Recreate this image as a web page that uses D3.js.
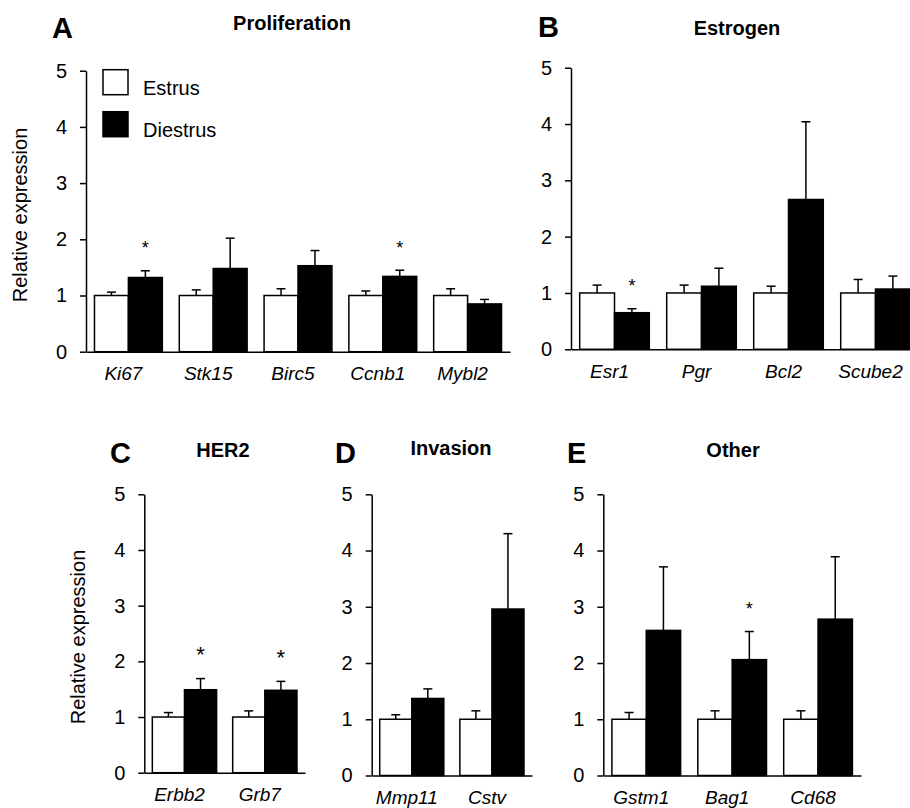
<!DOCTYPE html>
<html>
<head>
<meta charset="utf-8">
<script src="https://cdn.jsdelivr.net/npm/d3@7"></script>
<style>
    body { margin: 0; background: #fff; }
    svg { display: block; font-family: "Liberation Sans", Arial, sans-serif; }
    .axis { font-family: "Liberation Sans", Arial, sans-serif; }
    .axis path, .axis line { stroke: #000; stroke-width: 1.5; }
    .axis text { fill: #000; font-size: 20px; }
    .xaxis text { font-style: italic; font-size: 19px; }
</style>
</head>
<body>
<svg id="chart" width="910" height="808"></svg>
<script>
"use strict";

const SERIES = ["Estrus", "Diestrus"];
const Y_TICKS = [0, 1, 2, 3, 4, 5];

// A - Proliferation
const genesA = ["Ki67", "Stk15", "Birc5", "Ccnb1", "Mybl2"];
const estrusA = [1, 1, 1, 1, 1];
const estrusErrA = [0.06, 0.10, 0.12, 0.08, 0.12];
const diestrusA = [1.32, 1.48, 1.53, 1.34, 0.85];
const diestrusErrA = [0.12, 0.54, 0.27, 0.11, 0.08];
const starsA = [true, false, false, true, false];

// B - Estrogen
const genesB = ["Esr1", "Pgr", "Bcl2", "Scube2"];
const estrusB = [1, 1, 1, 1];
const estrusErrB = [0.14, 0.14, 0.12, 0.24];
const diestrusB = [0.65, 1.12, 2.66, 1.07];
const diestrusErrB = [0.07, 0.32, 1.38, 0.23];
const starsB = [true, false, false, false];

// C - HER2
const genesC = ["Erbb2", "Grb7"];
const estrusC = [1, 1];
const estrusErrC = [0.08, 0.11];
const diestrusC = [1.49, 1.48];
const diestrusErrC = [0.20, 0.16];
const starsC = [true, true];

// D - Invasion
const genesD = ["Mmp11", "Cstv"];
const estrusD = [1, 1];
const estrusErrD = [0.08, 0.15];
const diestrusD = [1.37, 2.96];
const diestrusErrD = [0.17, 1.34];
const starsD = [false, false];

// E - Other
const genesE = ["Gstm1", "Bag1", "Cd68"];
const estrusE = [1, 1, 1];
const estrusErrE = [0.12, 0.15, 0.15];
const diestrusE = [2.58, 2.06, 2.78];
const diestrusErrE = [1.13, 0.50, 1.11];
const starsE = [false, true, false];

let svg = d3.select("#chart");
svg.append("rect").attr("width", 910).attr("height", 808).attr("fill", "#fff");

/**
 * Draw one bar panel
 *
 * @param {Object} p layout of the panel (axis box, letter, title)
 * @param {Array} genes category names
 * @param {Array} series two arrays of values [estrus, diestrus]
 * @param {Array} errs two arrays of error values
 * @param {Array} stars significance flags
 */
function drawPanel(p, genes, series, errs, stars)
{
    let g = svg.append("g");

    let x = d3.scaleBand()
              .domain(genes)
              .range([p.x0, p.x1])
              .paddingInner(0.2)
              .paddingOuter(0.1);
    let xs = d3.scaleBand()
               .domain(SERIES)
               .range([0, x.bandwidth()]);
    let y = d3.scaleLinear()
              .domain([0, 5])
              .range([p.y0, p.y5]);

    let rows = [];
    genes.forEach((gene, i) =>
    {
        SERIES.forEach((s, k) =>
        {
            rows.push({gene: gene, s: s, v: series[k][i], e: errs[k][i]});
        });
    });

    let cx = d => x(d.gene) + xs(d.s) + xs.bandwidth() / 2;

    let bar = g.selectAll("g.bar")
               .data(rows)
               .enter()
               .append("g")
               .attr("class", "bar");

    bar.append("line")
       .attr("x1", cx)
       .attr("x2", cx)
       .attr("y1", d => y(d.v))
       .attr("y2", d => y(d.v + d.e))
       .attr("stroke", "#000")
       .attr("stroke-width", 1.5);

    bar.append("line")
       .attr("x1", d => cx(d) - 4.5)
       .attr("x2", d => cx(d) + 4.5)
       .attr("y1", d => y(d.v + d.e))
       .attr("y2", d => y(d.v + d.e))
       .attr("stroke", "#000")
       .attr("stroke-width", 1.5);

    bar.append("rect")
       .attr("x", d => x(d.gene) + xs(d.s))
       .attr("y", d => y(d.v))
       .attr("width", xs.bandwidth())
       .attr("height", d => y(0) - y(d.v))
       .attr("fill", d => d.s == "Estrus" ? "#fff" : "#000")
       .attr("stroke", "#000")
       .attr("stroke-width", 1.5);

    g.selectAll("text.star")
     .data(genes.filter((d, i) => stars[i]))
     .enter()
     .append("text")
     .attr("class", "star")
     .attr("x", d => x(d) + xs("Diestrus") + xs.bandwidth() / 2)
     .attr("y", d =>
     {
         let i = genes.indexOf(d);
         return y(series[1][i] + errs[1][i]) - 16.5;
     })
     .attr("text-anchor", "middle")
     .attr("font-size", p.star || 18)
     .text("*");

    g.append("g")
     .attr("class", "axis")
     .attr("transform", "translate(" + p.x0 + ",0)")
     .call(d3.axisLeft(y)
             .tickValues(Y_TICKS)
             .tickFormat(d3.format("d"))
             .tickSize(6)
             .tickSizeOuter(0)
             .tickPadding(13));

    let xa = g.append("g")
              .attr("class", "axis xaxis")
              .attr("transform", "translate(0," + p.y0 + ")")
              .call(d3.axisBottom(x)
                      .tickSize(0)
                      .tickSizeOuter(0)
                      .tickPadding(15));
    xa.selectAll("text").attr("dx", -5);

    g.append("text")
     .attr("x", p.lx)
     .attr("y", p.ly)
     .attr("font-size", 29)
     .attr("font-weight", "bold")
     .text(p.letter);

    g.append("text")
     .attr("x", p.tx)
     .attr("y", p.ty)
     .attr("text-anchor", "middle")
     .attr("font-size", 20)
     .attr("font-weight", "bold")
     .text(p.title);

    if (p.ylab)
    {
        g.append("text")
         .attr("transform", "translate(" + p.ylab[0] + "," + p.ylab[1] + ") rotate(-90)")
         .attr("text-anchor", "middle")
         .attr("font-size", 20)
         .text("Relative expression");
    }
    return {x: x, y: y};
}

let pa = drawPanel({x0: 86, x1: 510, y0: 351.7, y5: 70.7, letter: "A", lx: 52, ly: 38,
                    title: "Proliferation", tx: 292, ty: 30, ylab: [27, 215]},
                   genesA, [estrusA, diestrusA], [estrusErrA, diestrusErrA], starsA);

drawPanel({x0: 571, x1: 919, y0: 349.3, y5: 67.7, letter: "B", lx: 538, ly: 37,
           title: "Estrogen", tx: 737, ty: 35},
          genesB, [estrusB, diestrusB], [estrusErrB, diestrusErrB], starsB);

drawPanel({x0: 144.3, x1: 305, y0: 772.7, y5: 494.3, letter: "C", lx: 110, ly: 463,
           title: "HER2", tx: 223, ty: 457, ylab: [85, 637], star: 22},
          genesC, [estrusC, diestrusC], [estrusErrC, diestrusErrC], starsC);

drawPanel({x0: 371.7, x1: 532, y0: 775.5, y5: 494.3, letter: "D", lx: 335, ly: 463,
           title: "Invasion", tx: 451, ty: 455},
          genesD, [estrusD, diestrusD], [estrusErrD, diestrusErrD], starsD);

drawPanel({x0: 603.3, x1: 861, y0: 775.5, y5: 494.3, letter: "E", lx: 567, ly: 463,
           title: "Other", tx: 733, ty: 457},
          genesE, [estrusE, diestrusE], [estrusErrE, diestrusErrE], starsE);

// legend inside panel A
let legend = svg.append("g");
SERIES.forEach((s, i) =>
{
    let ly = pa.y(5) + i * 42;
    legend.append("rect")
          .attr("x", 103)
          .attr("y", ly - 1)
          .attr("width", 25)
          .attr("height", 25)
          .attr("fill", i == 0 ? "#fff" : "#000")
          .attr("stroke", "#000")
          .attr("stroke-width", 1.5);
    legend.append("text")
          .attr("x", 143)
          .attr("y", ly + 24)
          .attr("font-size", 20)
          .text(s);
});
</script>
</body>
</html>
